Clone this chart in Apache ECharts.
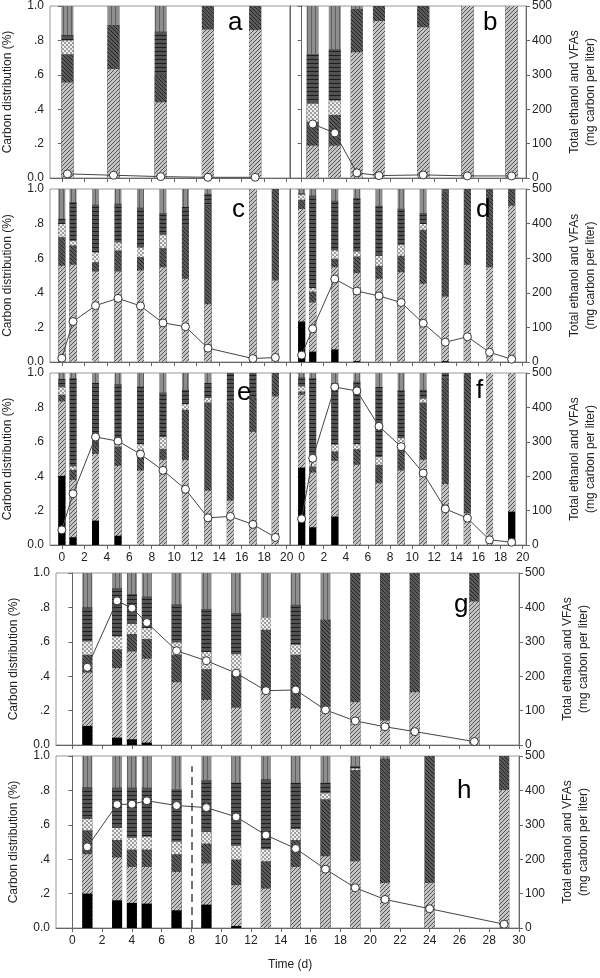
<!DOCTYPE html>
<html><head><meta charset="utf-8">
<script src="https://cdn.jsdelivr.net/npm/echarts@6/dist/echarts.min.js"></script>
<style>html,body{margin:0;padding:0;background:#fff}#c{width:600px;height:978px}</style>
</head><body><div id="c"></div><script>
// ---------- DATA (segment fractions, bottom to top: ethanol(black), light hatch, dark hatch, cross, horizontal, top gray) ----------
const aX = [0.5, 4.6, 8.8, 13, 17.2];
const aS1 = [0, 0, 0, 0, 0];
const aS2 = [.555, .634, .44, .863, .86];
const aS3 = [.165, .256, .154, .137, .14];
const aS4 = [.08, 0, 0, 0, 0];
const aS5 = [.03, 0, .256, 0, 0];
const aS6 = [.17, .11, .15, 0, 0];
const aTotal = [12, 8, 4, 2, 2];

const bX = [1, 3, 5, 7, 11, 15, 19];
const bS1 = [0, 0, 0, 0, 0, 0, 0];
const bS2 = [.188, .188, .731, .913, .876, 1, 1];
const bS3 = [.139, .179, .252, .087, .124, 0, 0];
const bS4 = [.106, .083, 0, 0, 0, 0, 0];
const bS5 = [.287, .299, 0, 0, 0, 0, 0];
const bS6 = [.28, .251, .017, 0, 0, 0, 0];
const bTotal = [157, 131, 15, 7, 9, 6, 6];

const cX = [0, 1, 3, 5, 7, 9, 11, 13, 17, 19];
const cS1 = [0, 0, 0, 0, 0, 0, 0, 0, 0, 0];
const cS2 = [.556, .562, .523, .523, .529, .548, .481, .334, 1, .471];
const cS3 = [.166, .112, .054, .122, .077, .11, .299, .575, 0, .529];
const cS4 = [.075, .026, .056, .046, .056, .077, 0, 0, 0, 0];
const cS5 = [.031, .225, .276, .224, .23, .126, .116, .064, 0, 0];
const cS6 = [.172, .075, .091, .085, .108, .139, .104, .027, 0, 0];
const cTotal = [11, 117, 163, 184, 162, 113, 102, 40, 10, 13];

const dX = [0, 1, 3, 5, 7, 9, 11, 13, 15, 17, 19];
const dS1 = [.234, .06, .073, .005, 0, 0, 0, .005, 0, 0, 0];
const dS2 = [.65, .284, .475, .509, .481, .519, .452, .373, .562, .548, .903];
const dS3 = [.054, .063, .049, .096, .075, .095, .312, .607, .438, .452, .097];
const dS4 = [.029, .02, .048, .029, .058, .064, .033, 0, 0, 0, 0];
const dS5 = [.01, .534, .287, .309, .289, .208, .064, .015, 0, 0, 0];
const dS6 = [.023, .039, .068, .052, .097, .114, .139, 0, 0, 0, 0];
const dTotal = [20, 96, 240, 205, 191, 172, 112, 57, 73, 28, 8];

const eX = [0, 1, 3, 5, 7, 9, 11, 13, 15, 17, 19];
const eS1 = [.402, .045, .142, .054, 0, 0, 0, 0, 0, 0, 0];
const eS2 = [.433, .334, .388, .406, .433, .495, .495, .316, .258, .658, .864];
const eS3 = [.039, .058, .058, .113, .117, .064, .291, .513, .577, .196, .136];
const eS4 = [.043, .019, 0, .015, .036, .068, .033, .025, 0, 0, 0];
const eS5 = [.048, .515, .354, .348, .336, .26, .084, .088, .165, .146, 0];
const eS6 = [.035, .029, .058, .064, .078, .113, .097, .058, 0, 0, 0];
const eTotal = [44, 149, 314, 302, 264, 217, 162, 79, 83, 60, 22];

const fX = [0, 1, 3, 5, 7, 9, 11, 13, 15, 17, 19];
const fS1 = [.45, .103, .165, 0, 0, 0, 0, 0, 0, 0, .194];
const fS2 = [.424, .318, .324, .466, .359, .433, .495, .355, .184, 1, .806];
const fS3 = [.019, .035, .055, .091, .107, .12, .334, .62, .816, 0, 0];
const fS4 = [.029, .026, .039, .029, .045, .068, .021, 0, 0, 0, 0];
const fS5 = [.053, .489, .359, .365, .407, .278, .053, .025, 0, 0, 0];
const fS6 = [.025, .029, .058, .049, .082, .101, .097, 0, 0, 0, 0];
const fTotal = [76, 252, 459, 448, 345, 286, 209, 105, 78, 15, 8];

const gX = [1, 3, 4, 5, 7, 9, 11, 13, 15, 17, 19, 21, 23, 27];
const gS1 = [.111, .043, .033, .014, 0, 0, 0, 0, 0, 0, 0, 0, 0, 0];
const gS2 = [.31, .404, .511, .487, .365, .262, .217, .315, .214, .223, .249, .142, .307, .835];
const gS3 = [.103, .11, .101, .116, .159, .179, .2, .355, .31, .505, .751, .858, .693, .165];
const gS4 = [.078, .074, .06, .063, .072, .099, .111, .072, .059, 0, 0, 0, 0, 0];
const gS5 = [.198, .282, .173, .184, .223, .25, .239, 0, .233, 0, 0, 0, 0, 0];
const gS6 = [.2, .087, .122, .136, .181, .21, .233, .258, .184, .272, 0, 0, 0, 0];
const gTotal = [226, 419, 398, 356, 274, 245, 209, 158, 160, 102, 70, 53, 39, 10];

const hX = [1, 3, 4, 5, 7, 9, 11, 13, 15, 17, 19, 21, 24, 29];
const hS1 = [.2, .161, .146, .142, .103, .136, .012, 0, 0, 0, 0, 0, 0, 0];
const hS2 = [.229, .249, .209, .213, .223, .239, .237, .229, .355, .417, .388, .262, .262, .802];
const hS3 = [.14, .101, .101, .101, .103, .116, .149, .159, .156, .331, .53, .722, .738, .198];
const hS4 = [.064, .072, .068, .074, .072, .068, .08, .07, .064, .035, .01, 0, 0, 0];
const hS5 = [.184, .233, .292, .286, .305, .301, .367, .406, .27, .062, .014, 0, 0, 0];
const hS6 = [.183, .184, .184, .184, .194, .14, .155, .136, .155, .155, .058, .016, 0, 0];
const hTotal = [236, 359, 360, 370, 356, 350, 323, 270, 231, 171, 117, 83, 56, 11];

const panelLetters = ['a', 'b', 'c', 'd', 'e', 'f', 'g', 'h'];
const evenTicks20 = [0, 2, 4, 6, 8, 10, 12, 14, 16, 18, 20];
const evenTicks30 = [0, 2, 4, 6, 8, 10, 12, 14, 16, 18, 20, 22, 24, 26, 28, 30];
const dashedDay = 8;

// ---------- patterns ----------
function pat(bg, size, draw) {
  const c = document.createElement('canvas');
  c.width = size; c.height = size;
  const g = c.getContext('2d');
  g.fillStyle = bg; g.fillRect(0, 0, size, size);
  draw(g, size);
  return { image: c, repeat: 'repeat' };
}
function diag(fg, lw, dir) {
  return function (g, s) {
    g.strokeStyle = fg; g.lineWidth = lw; g.beginPath();
    if (dir > 0) {
      g.moveTo(0, s); g.lineTo(s, 0);
      g.moveTo(-1, 1); g.lineTo(1, -1);
      g.moveTo(s - 1, s + 1); g.lineTo(s + 1, s - 1);
    } else {
      g.moveTo(0, 0); g.lineTo(s, s);
      g.moveTo(-1, s - 1); g.lineTo(1, s + 1);
      g.moveTo(s - 1, -1); g.lineTo(s + 1, 1);
    }
    g.stroke();
  };
}
const fills = [
  '#000000',
  pat('#c4c4c4', 4, diag('#4a4a4a', 0.9, 1)),
  pat('#5a5a5a', 4, diag('#1e1e1e', 0.9, -1)),
  pat('#a0a0a0', 4, function (g, s) { g.fillStyle = '#eeeeee'; g.fillRect(0, 0, 2, 2); g.fillRect(2, 2, 2, 2); }),
  pat('#525252', 4, function (g, s) { g.fillStyle = '#1e1e1e'; g.fillRect(0, 3, s, 1); }),
  pat('#8e8e8e', 4, function (g, s) { g.fillStyle = '#606060'; g.fillRect(3, 0, 1, s); })
];

// ---------- panels ----------
const panels = [
  { x: aX, segs: [aS1, aS2, aS3, aS4, aS5, aS6], total: aTotal, grid: { left: 50, top: 6, width: 240, height: 172 }, bw: 12, col: 'L', xlab: false, wide: false },
  { x: bX, segs: [bS1, bS2, bS3, bS4, bS5, bS6], total: bTotal, grid: { left: 290, top: 6, width: 240, height: 172 }, bw: 12, col: 'R', xlab: false, wide: false },
  { x: cX, segs: [cS1, cS2, cS3, cS4, cS5, cS6], total: cTotal, grid: { left: 50, top: 189, width: 240, height: 173 }, bw: 7, col: 'L', xlab: false, wide: false },
  { x: dX, segs: [dS1, dS2, dS3, dS4, dS5, dS6], total: dTotal, grid: { left: 290, top: 189, width: 240, height: 173 }, bw: 7, col: 'R', xlab: false, wide: false },
  { x: eX, segs: [eS1, eS2, eS3, eS4, eS5, eS6], total: eTotal, grid: { left: 50, top: 373, width: 240, height: 172 }, bw: 7, col: 'L', xlab: true, wide: false },
  { x: fX, segs: [fS1, fS2, fS3, fS4, fS5, fS6], total: fTotal, grid: { left: 290, top: 373, width: 240, height: 172 }, bw: 7, col: 'R', xlab: true, wide: false },
  { x: gX, segs: [gS1, gS2, gS3, gS4, gS5, gS6], total: gTotal, grid: { left: 50, top: 573, width: 480, height: 172 }, bw: 10, col: 'B', xlab: false, wide: true },
  { x: hX, segs: [hS1, hS2, hS3, hS4, hS5, hS6], total: hTotal, grid: { left: 50, top: 756, width: 480, height: 172 }, bw: 10, col: 'B', xlab: true, wide: true }
];
const letterPos = [[235, 25], [490, 25], [239, 212], [483, 212], [244, 395], [483, 393], [461, 607], [464, 793]];

const FONT = 'Liberation Sans, Arial, sans-serif';
const axisColor = '#666';
const grids = [], xAxes = [], yAxes = [], series = [], graphics = [];

panels.forEach(function (p, i) {
  grids.push(Object.assign({ show: true, borderColor: '#999', borderWidth: 1, containLabel: false }, p.grid));
  xAxes.push({
    type: 'value', gridIndex: i,
    min: p.wide ? -1.1 : -1.05, max: p.wide ? 30 : 20.3,
    splitLine: { show: false },
    axisLine: { show: true, lineStyle: { color: axisColor } },
    axisTick: { show: true, length: 4, lineStyle: { color: axisColor }, customValues: p.wide ? evenTicks30 : evenTicks20 },
    axisLabel: { show: p.xlab, color: '#222', fontSize: 12, fontFamily: FONT, margin: 7, customValues: p.wide ? evenTicks30 : evenTicks20 }
  });
  const showLeft = p.col !== 'R';
  const showRight = p.col !== 'L';
  yAxes.push({
    type: 'value', gridIndex: i, position: 'left', min: 0, max: 1, interval: 0.2,
    splitLine: { show: false },
    axisLine: { show: true, lineStyle: { color: axisColor } },
    axisTick: { show: true, length: 4, lineStyle: { color: axisColor } },
    axisLabel: {
      show: showLeft, color: '#222', fontSize: 12, fontFamily: FONT, margin: 6,
      formatter: function (v) { if (v === 0) return '0.0'; if (Math.abs(v - 1) < 1e-9) return '1.0'; return '.' + Math.round(v * 10); }
    },
    name: showLeft ? 'Carbon distribution (%)' : '', nameLocation: 'middle', nameGap: 36, nameRotate: 90,
    nameTextStyle: { fontSize: 12, fontFamily: FONT, color: '#222' }
  });
  yAxes.push({
    type: 'value', gridIndex: i, position: 'right', min: 0, max: 500, interval: 100,
    splitLine: { show: false },
    axisLine: { show: true, lineStyle: { color: axisColor } },
    axisTick: { show: showRight, length: 4, lineStyle: { color: axisColor } },
    axisLabel: { show: showRight, color: '#222', fontSize: 12, fontFamily: FONT, margin: 6 },
    name: showRight ? 'Total ethanol and VFAs\n(mg carbon per liter)' : '', nameLocation: 'middle', nameGap: 41, nameRotate: 90,
    nameTextStyle: { fontSize: 12, fontFamily: FONT, color: '#222', lineHeight: 16 }
  });
  // bars: cumulative tops drawn from the top segment down so lower segments overlay
  for (let k = 5; k >= 0; k--) {
    const data = p.x.map(function (xv, j) {
      let cum = 0;
      for (let m = 0; m <= k; m++) cum += p.segs[m][j];
      return [xv, Math.min(cum, 1)];
    });
    const s = {
      type: 'bar', xAxisIndex: i, yAxisIndex: 2 * i, data: data,
      barWidth: p.bw, barGap: '-100%', z: 2 + (5 - k) * 0.01,
      itemStyle: { color: fills[k] }, silent: true, animation: false
    };
    if (i === 7 && k === 0) {
      s.markLine = {
        silent: true, symbol: 'none', label: { show: false }, animation: false,
        lineStyle: { type: [8, 5], color: '#444', width: 1.5 },
        data: [[{ coord: [dashedDay, 0] }, { coord: [dashedDay, 0.94] }]]
      };
    }
    series.push(s);
  }
  series.push({
    type: 'line', xAxisIndex: i, yAxisIndex: 2 * i + 1, data: p.x.map(function (xv, j) { return [xv, p.total[j]]; }),
    symbol: 'circle', symbolSize: 8, z: 5,
    lineStyle: { color: '#444', width: 1 },
    itemStyle: { color: '#fff', borderColor: '#333', borderWidth: 1 },
    silent: true, animation: false
  });
  graphics.push({
    type: 'text', z: 100, left: letterPos[i][0] - 7, top: letterPos[i][1] - 15,
    style: { text: panelLetters[i], font: '26px ' + FONT, fill: '#000' }
  });
});
graphics.push({ type: 'text', z: 100, left: 268, top: 959, style: { text: 'Time (d)', font: '12px ' + FONT, fill: '#222' } });

const chart = echarts.init(document.getElementById('c'), null, { renderer: 'canvas', width: 600, height: 978 });
chart.setOption({
  animation: false,
  backgroundColor: '#fff',
  grid: grids, xAxis: xAxes, yAxis: yAxes, series: series, graphic: graphics
});
</script></body></html>
